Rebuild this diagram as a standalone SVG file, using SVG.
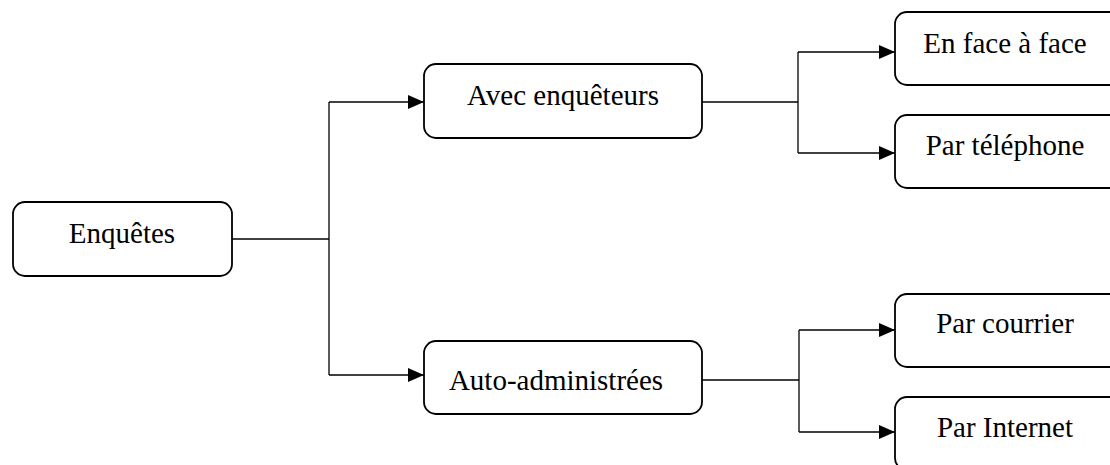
<svg xmlns="http://www.w3.org/2000/svg" width="1110" height="465" viewBox="0 0 1110 465">
<style>
.box{fill:#fff;stroke:#000;stroke-width:1.8}
.lbl{font-family:"Liberation Serif","Times New Roman",serif;font-size:29px;fill:#000;text-anchor:middle}
.ln{fill:none;stroke:#000;stroke-width:1.3}
</style>
<defs>
<marker id="arr" markerUnits="userSpaceOnUse" markerWidth="17" markerHeight="15" refX="16" refY="7" orient="auto">
<path d="M0,0 L16,7 L0,14 z" fill="#000"/>
</marker>
</defs>
<rect width="1110" height="465" fill="#fff"/>
<g id="connectors">
<path class="ln" d="M232,239 H329"/>
<path class="ln" d="M329,102 V375"/>
<path class="ln" d="M329,102 H424" marker-end="url(#arr)"/>
<path class="ln" d="M329,375 H424" marker-end="url(#arr)"/>
<path class="ln" d="M702,102 H798"/>
<path class="ln" d="M798,52 V153"/>
<path class="ln" d="M798,52 H895" marker-end="url(#arr)"/>
<path class="ln" d="M798,153 H895" marker-end="url(#arr)"/>
<path class="ln" d="M702,380 H799"/>
<path class="ln" d="M799,330 V432"/>
<path class="ln" d="M799,330 H895" marker-end="url(#arr)"/>
<path class="ln" d="M799,432 H895" marker-end="url(#arr)"/>
</g>
<g id="enquetes">
<rect class="box" x="13" y="202" width="219" height="74" rx="12"/>
<text class="lbl" x="122" y="243">Enquêtes</text>
</g>
<g id="avec">
<rect class="box" x="424" y="64" width="278" height="74" rx="12"/>
<text class="lbl" x="563" y="105">Avec enquêteurs</text>
</g>
<g id="auto">
<rect class="box" x="424" y="341" width="278" height="73" rx="12"/>
<text class="lbl" x="556" y="390">Auto-administrées</text>
</g>
<g id="face">
<rect class="box" x="895" y="12" width="230" height="73" rx="12"/>
<text class="lbl" x="1005" y="53">En face à face</text>
</g>
<g id="telephone">
<rect class="box" x="895" y="115" width="230" height="73" rx="12"/>
<text class="lbl" x="1005" y="155">Par téléphone</text>
</g>
<g id="courrier">
<rect class="box" x="895" y="294" width="230" height="73" rx="12"/>
<text class="lbl" x="1005" y="333">Par courrier</text>
</g>
<g id="internet">
<rect class="box" x="895" y="397" width="230" height="73" rx="12"/>
<text class="lbl" x="1005" y="437">Par Internet</text>
</g>
</svg>
